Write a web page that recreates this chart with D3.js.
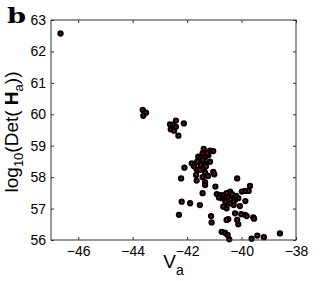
<!DOCTYPE html>
<html>
<head>
<meta charset="utf-8">
<script src="https://cdn.jsdelivr.net/npm/d3@7"></script>
<style>
  body { margin: 0; background: #fff; }
  svg { display: block; font-family: "Liberation Sans", Arial, sans-serif; }
</style>
</head>
<body>
<div id="chart"></div>
<script>
// Data
const va = [
  -46.65, -43.63, -43.51, -43.61, -42.41, -42.63, -42.51, -42.12, -42.41, -42.60,
  -42.48, -42.32, -41.39, -41.16, -41.04, -41.43, -41.59, -41.53, -41.34, -41.22,
  -41.63, -41.83, -41.75, -42.10, -41.50, -41.34, -41.16, -41.65, -41.38, -41.04,
  -41.00, -41.34, -41.67, -42.22, -41.65, -41.43, -41.34, -41.43, -40.96, -42.20,
  -41.89, -41.53, -42.30, -41.42, -41.31, -41.53, -41.27, -41.23, -41.34, -40.91,
  -40.79, -40.67, -40.55, -40.42, -40.73, -40.61, -40.49, -40.36, -40.24, -40.12,
  -39.99, -39.87, -39.74, -40.16, -39.69, -40.55, -40.42, -40.30, -40.06, -40.67,
  -40.24, -40.49, -40.16, -39.87, -39.81, -40.12, -39.57, -39.54, -41.12, -41.10,
  -40.73, -40.61, -40.51, -40.45, -39.63, -39.42, -39.18, -38.59, -40.55, -39.86,
  -40.29, -40.01, -40.35, -40.20, -40.59, -40.83
];
const logDet = [
  62.57, 60.14, 60.05, 59.95, 59.80, 59.68, 59.67, 59.71, 59.60, 59.52,
  59.48, 59.32, 58.90, 58.84, 58.83, 58.76, 58.65, 58.57, 58.63, 58.70,
  58.49, 58.44, 58.35, 58.30, 58.39, 58.44, 58.49, 58.25, 58.28, 58.17,
  58.09, 58.14, 58.07, 57.96, 57.89, 58.00, 57.84, 57.49, 57.70, 57.22,
  57.17, 57.11, 56.80, 58.55, 58.35, 58.23, 58.77, 58.04, 57.75, 57.46,
  57.43, 57.43, 57.49, 57.54, 57.33, 57.29, 57.36, 57.40, 57.27, 57.33,
  57.54, 57.56, 57.56, 57.96, 57.72, 57.01, 57.17, 57.22, 57.08, 57.06,
  56.85, 56.66, 56.64, 56.80, 56.76, 56.50, 56.72, 56.68, 56.76, 56.56,
  56.26, 56.23, 56.16, 56.02, 56.04, 56.14, 56.09, 56.21, 56.64, 57.24,
  57.11, 56.82, 57.46, 57.40, 57.21, 57.35
];
const xTicks = [-46, -44, -42, -40, -38];
const yTicks = [56, 57, 58, 59, 60, 61, 62, 63];

const width = 327;
const height = 281;
const margin = { top: 20, right: 31, bottom: 41, left: 51 };

const points = va.map((v, i) => ({ x: v, y: logDet[i] }));

const x = d3.scaleLinear().domain([-47, -38]).range([margin.left, width - margin.right]);
const y = d3.scaleLinear().domain([56, 63]).range([height - margin.bottom, margin.top]);

const svg = d3.select("#chart").append("svg")
    .attr("width", width)
    .attr("height", height)
    .attr("viewBox", [0, 0, width, height]);

// Points: thick black ring, small red centre
svg.append("g")
    .selectAll("circle")
    .data(points)
    .join("circle")
    .attr("cx", d => x(d.x))
    .attr("cy", d => y(d.y))
    .attr("r", 2)
    .attr("fill", "#d01010")
    .attr("stroke", "#000")
    .attr("stroke-width", 2.3);

// Axes, ticks pointing inward on all four sides
const fmt = d3.format("d");
const tickLen = 3;

svg.append("g")
    .attr("transform", `translate(0,${y.range()[0]})`)
    .call(d3.axisBottom(x).tickValues(xTicks).tickFormat(fmt)
      .tickSizeInner(-tickLen).tickSizeOuter(0).tickPadding(6))
    .call(g => g.select(".domain").remove());

svg.append("g")
    .attr("transform", `translate(0,${y.range()[1]})`)
    .call(d3.axisTop(x).tickValues(xTicks).tickFormat("")
      .tickSizeInner(-tickLen).tickSizeOuter(0))
    .call(g => g.select(".domain").remove());

svg.append("g")
    .attr("transform", `translate(${x.range()[0]},0)`)
    .call(d3.axisLeft(y).tickValues(yTicks).tickFormat(fmt)
      .tickSizeInner(-tickLen).tickSizeOuter(0).tickPadding(5))
    .call(g => g.select(".domain").remove());

svg.append("g")
    .attr("transform", `translate(${x.range()[1]},0)`)
    .call(d3.axisRight(y).tickValues(yTicks).tickFormat("")
      .tickSizeInner(-tickLen).tickSizeOuter(0))
    .call(g => g.select(".domain").remove());

svg.selectAll(".tick line").attr("stroke", "#333");
svg.selectAll(".tick text")
    .attr("fill", "#000")
    .style("font-size", "14px")
    .style("font-family", "'Liberation Sans', Arial, sans-serif");

// Box
svg.append("rect")
    .attr("x", x.range()[0])
    .attr("y", y.range()[1])
    .attr("width", x.range()[1] - x.range()[0])
    .attr("height", y.range()[0] - y.range()[1])
    .attr("fill", "none")
    .attr("stroke", "#333")
    .attr("stroke-width", 1);

// x label: V_a
const xl = svg.append("text")
    .attr("x", (x.range()[0] + x.range()[1]) / 2)
    .attr("y", 268)
    .attr("text-anchor", "middle")
    .style("font-size", "19px");
xl.append("tspan").text("V");
xl.append("tspan").attr("dy", 7).style("font-size", "14px").text("a");

// y label: log10(Det(Ha))
const yl = svg.append("text")
    .attr("transform", "translate(18,132) rotate(-90)")
    .attr("text-anchor", "middle")
    .style("font-size", "19px");
yl.append("tspan").text("log");
yl.append("tspan").attr("dy", 5).style("font-size", "13px").text("10");
yl.append("tspan").attr("dy", -5).text("(Det( ");
yl.append("tspan").style("font-weight", "bold").text("H");
yl.append("tspan").attr("dy", 5).style("font-size", "13px").text("a");
yl.append("tspan").attr("dy", -5).text("))");

// panel letter
svg.append("text")
    .attr("transform", "translate(7,23) scale(1.3,1)")
    .style("font-family", "'DejaVu Serif', serif")
    .style("font-weight", "bold")
    .style("font-size", "21px")
    .text("b");
</script>
</body>
</html>
